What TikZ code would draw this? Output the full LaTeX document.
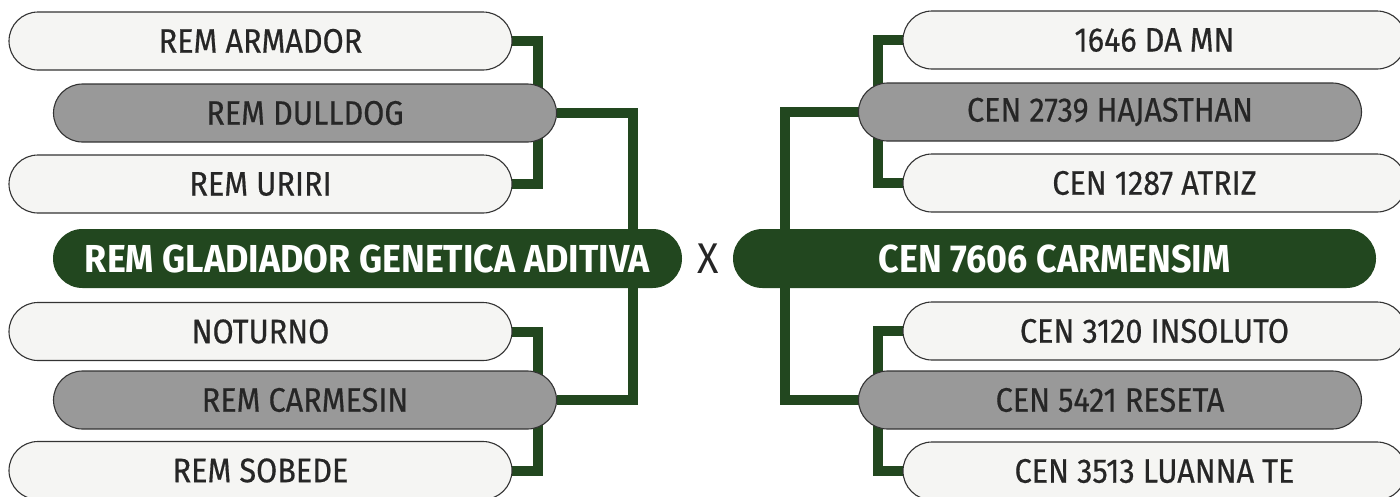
\documentclass[tikz,border=0pt]{standalone}
\usepackage{fontspec}
\setmainfont{Fira Sans}[FakeStretch=0.92]
\newfontfamily\boxfont{Fira Sans}[FakeStretch=0.9,FakeBold=0.5]
\usetikzlibrary{backgrounds}
\definecolor{pedgreen}{HTML}{22471F}
\definecolor{pedgrey}{HTML}{999999}
\definecolor{pedwhite}{HTML}{F5F5F3}
\definecolor{pedline}{HTML}{333333}
\begin{document}
\begin{tikzpicture}[x=1pt,y=-1pt,inner sep=0pt,outer sep=0pt,
lightbox/.style={draw=pedline,line width=1.1pt,fill=pedwhite,rectangle,rounded corners=29pt,minimum width=503pt,minimum height=58pt,text=black!85,font=\boxfont\fontsize{34}{34}\selectfont},
greybox/.style={lightbox,fill=pedgrey},
mainbox/.style={fill=pedgreen,rectangle,rounded corners=29.5pt,minimum height=59pt,text=white,font=\fontsize{39}{39}\selectfont\bfseries},
link/.style={draw=pedgreen,line width=10pt}]
\useasboundingbox (0,0) rectangle (1400,496);
% left parents
\draw (260.5,41) node[lightbox] (armador) {REM ARMADOR};
\draw (305,113) node[greybox] (dulldog) {REM DULLDOG};
\draw (260.5,184) node[lightbox] (uriri) {REM URIRI};
\draw (367.5,258.5) node[mainbox,minimum width=629pt] (gladiador) {REM GLADIADOR GENETICA ADITIVA};
\draw (260.5,331.5) node[lightbox] (noturno) {NOTURNO};
\draw (305,400) node[greybox] (carmesin) {REM CARMESIN};
\draw (260.5,470.5) node[lightbox] (sobede) {REM SOBEDE};
% cross
\draw (708,259) node[text=black!85,font=\fontsize{43}{43}\selectfont] (cross) {X};
% right parents
\draw (1054.5,258.5) node[mainbox,minimum width=643pt] (carmensim) {CEN 7606 CARMENSIM};
\draw (1154.5,40) node[lightbox] (dam) {1646 DA MN};
\draw (1110,112) node[greybox] (hajasthan) {CEN 2739 HAJASTHAN};
\draw (1154.5,183) node[lightbox] (atriz) {CEN 1287 ATRIZ};
\draw (1154.5,331) node[lightbox] (insoluto) {CEN 3120 INSOLUTO};
\draw (1110,400) node[greybox] (reseta) {CEN 5421 RESETA};
\draw (1154.5,471) node[lightbox] (luanna) {CEN 3513 LUANNA TE};
\begin{scope}[on background layer]
\draw[link] (armador.east) -- ++(26,0) |- (uriri.east);
\draw[link] (noturno.east) -- ++(26,0) |- (sobede.east);
\draw[link] (dulldog.east) -- ++(76,0) coordinate (c1) -- (c1 |- gladiador.north);
\draw[link] (carmesin.east) -- ++(76,0) coordinate (c2) -- (c2 |- gladiador.south);
\draw[link] (dam.west) -- ++(-25,0) |- (atriz.west);
\draw[link] (insoluto.west) -- ++(-25,0) |- (luanna.west);
\draw[link] (hajasthan.west) -- ++(-74,0) coordinate (c3) -- (c3 |- carmensim.north);
\draw[link] (reseta.west) -- ++(-74,0) coordinate (c4) -- (c4 |- carmensim.south);
\end{scope}
\end{tikzpicture}
\end{document}
